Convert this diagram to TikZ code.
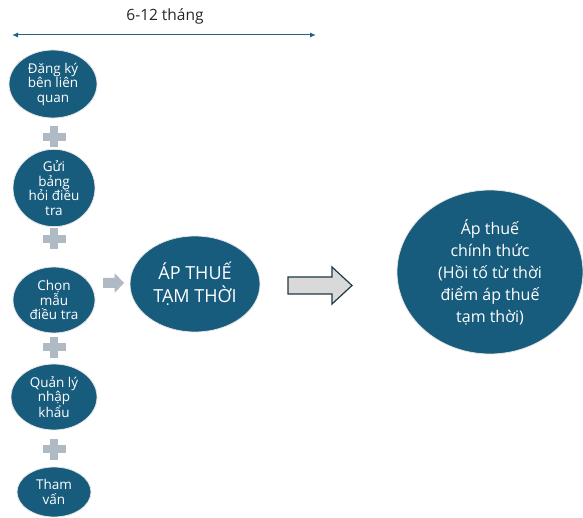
\documentclass[tikz,border=0pt]{standalone}
\usepackage{fontspec}
\setmainfont{Open Sans}
\usetikzlibrary{arrows.meta,shapes.geometric}
\definecolor{teal}{RGB}{24,92,125}
\definecolor{plusgray}{RGB}{176,186,196}
\definecolor{bigarrow}{RGB}{217,217,217}
\definecolor{arrowedge}{RGB}{30,55,70}
\definecolor{linecol}{RGB}{40,100,130}
\tikzset{
  stepell/.style={ellipse, fill=teal, draw=white!80!gray, line width=0.8pt, text=white, align=center, inner sep=0pt, font=\fontsize{13.5}{14.5}\selectfont},
  pics/plussign/.style={code={
    \fill[plusgray] (-11.5,-4) rectangle (11.5,4);
    \fill[plusgray] (-4,-10.5) rectangle (4,10.5);
  }},
  pics/smallarrow/.style={code={
    \fill[plusgray] (-10.5,-5) -- (1,-5) -- (1,-10) -- (10.5,0) -- (1,10) -- (1,5) -- (-10.5,5) -- cycle;
  }}
}
\begin{document}
\begin{tikzpicture}[x=1pt,y=-1pt]
\useasboundingbox (0,0) rectangle (583,518);
% top span
\coordinate (spanL) at (12,35);
\coordinate (spanR) at (316,35);
\draw[linecol, line width=1pt, {Latex[length=6pt,width=5pt]}-{Latex[length=6pt,width=5pt]}] (spanL) -- (spanR);
\node[font=\fontsize{15.5}{18}\selectfont, text=black!85] (span) at (165,16) {6-12 tháng};
% left column
\node[stepell, minimum width=88, minimum height=68] (e1) at (53,84) {Đăng ký\\bên liên\\quan};
\pic at (54,137) {plussign};
\node[stepell, minimum width=82, minimum height=68] (e2) at (54,188) {Gửi\\bảng\\hỏi điều\\tra};
\pic at (54,239) {plussign};
\node[stepell, minimum width=82, minimum height=66] (e3) at (54,300) {Chọn\\mẫu\\điều tra};
\pic at (54,347) {plussign};
\node[stepell, minimum width=86, minimum height=66] (e4) at (54,397) {Quản lý\\nhập\\khẩu};
\pic at (54,449) {plussign};
\node[stepell, minimum width=74, minimum height=50] (e5) at (54,492) {Tham\\vấn};
% small arrow
\pic at (113.5,283) {smallarrow};
% main ellipse
\node[stepell, minimum width=130, minimum height=96, font=\fontsize{18}{23}\selectfont] (tmp) at (195,284) {ÁP THUẾ\\TẠM THỜI};
% big arrow
\draw[fill=bigarrow, draw=arrowedge, line width=1.2pt]
  (288,277) -- (332,277) -- (332,267) -- (352,285.5) -- (332,304) -- (332,294) -- (288,294) -- cycle;
% big ellipse
\node[stepell, minimum width=186, minimum height=164, font=\fontsize{16}{22}\selectfont] (final) at (490,272) {Áp thuế\\chính thức\\(Hồi tố từ thời\\điểm áp thuế\\tạm thời)};
\end{tikzpicture}
\end{document}
